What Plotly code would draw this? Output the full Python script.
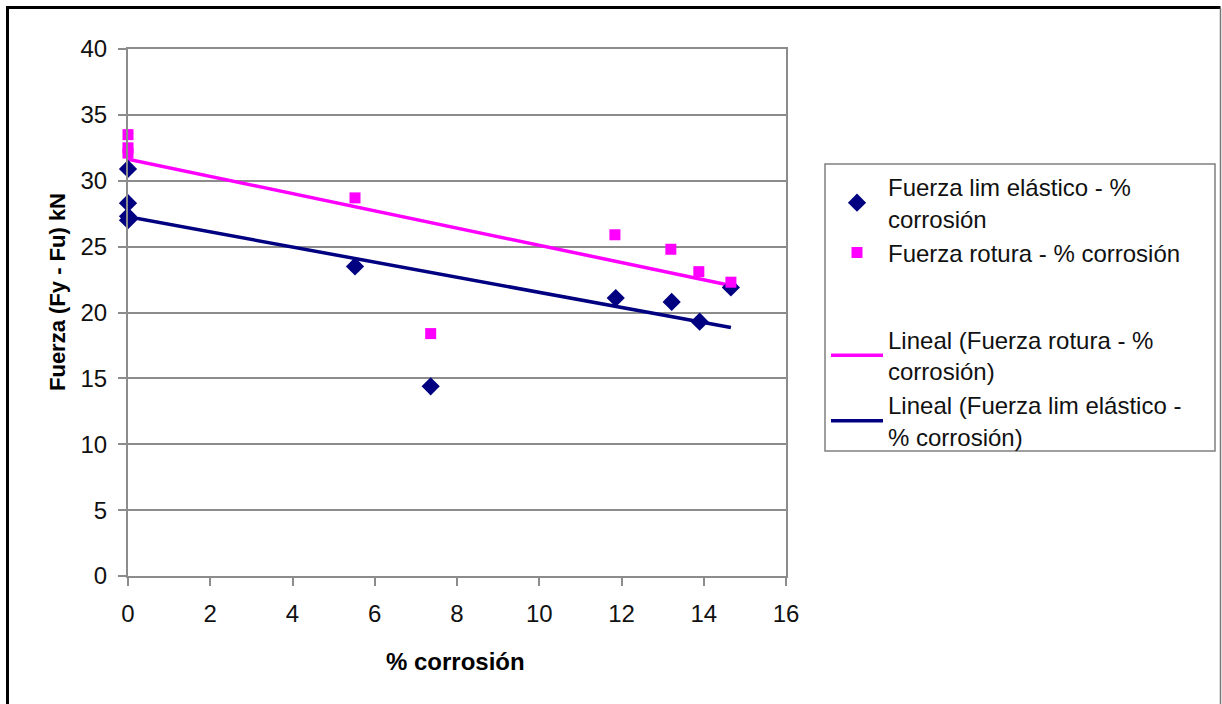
import numpy as np
import plotly.graph_objects as go

# Fuerza en el límite elástico (kN) frente al % de corrosión
corr_fy = [0, 0, 0, 0, 5.52, 7.36, 11.86, 13.22, 13.90, 14.66]
fy = [30.9, 28.3, 27.3, 27.0, 23.5, 14.4, 21.1, 20.8, 19.3, 21.9]

# Fuerza de rotura (kN) frente al % de corrosión
corr_fu = [0, 0, 0, 5.52, 7.36, 11.84, 13.20, 13.88, 14.66]
fu = [33.5, 32.5, 32.1, 28.7, 18.4, 25.9, 24.8, 23.1, 22.3]

x_ticks = [0, 2, 4, 6, 8, 10, 12, 14, 16]
y_ticks = [0, 5, 10, 15, 20, 25, 30, 35, 40]

BLUE = "#000080"
PINK = "#FF00FF"
GRID = "#8c8c8c"
FONT = "Liberation Sans, Arial, sans-serif"

W, H = 1222, 704
ML, MR, MT, MB = 128, 436, 49, 128
PW, PH = W - ML - MR, H - MT - MB


def px(x):
    return (x - ML) / PW


def py(y):
    return (H - MB - y) / PH


# Rectas de regresión lineal
def linear_fit(xs, ys):
    m, b = np.polyfit(xs, ys, 1)
    xf = np.array([0.0, max(xs)])
    return xf, m * xf + b


xf_fu, yf_fu = linear_fit(corr_fu, fu)
xf_fy, yf_fy = linear_fit(corr_fy, fy)

fig = go.Figure()
fig.add_trace(go.Scatter(
    x=xf_fu, y=yf_fu, mode="lines", line=dict(color=PINK, width=3.5), cliponaxis=False,
    name="Lineal (Fuerza rotura - %<br>corrosión)", legendgroup="fit", legendrank=3))
fig.add_trace(go.Scatter(
    x=xf_fy, y=yf_fy, mode="lines", line=dict(color=BLUE, width=3.5), cliponaxis=False,
    name="Lineal (Fuerza lim elástico -<br>% corrosión)", legendgroup="fit", legendrank=4))
fig.add_trace(go.Scatter(
    x=corr_fy, y=fy, mode="markers", cliponaxis=False,
    marker=dict(symbol="diamond", size=14, color=BLUE),
    name="Fuerza lim elástico - %<br>corrosión", legendgroup="pts", legendrank=1))
fig.add_trace(go.Scatter(
    x=corr_fu, y=fu, mode="markers", cliponaxis=False,
    marker=dict(symbol="square", size=11, color=PINK),
    name="Fuerza rotura - % corrosión", legendgroup="pts", legendrank=2))

axis_common = dict(
    showgrid=False, zeroline=False, showline=True, linecolor=GRID, linewidth=2,
    mirror=True, ticks="outside", ticklen=8, tickcolor=GRID, tickwidth=1.5,
    tickfont=dict(family=FONT, size=24, color="#111111"),
)
fig.update_xaxes(range=[0, 16], tickvals=x_ticks, ticklabelstandoff=7, **axis_common)
fig.update_yaxes(range=[0, 40], tickvals=y_ticks, ticklabelstandoff=6, **axis_common)
fig.update_yaxes(showgrid=True, gridcolor=GRID, gridwidth=1.5)

shapes = [
    # marco exterior
    dict(type="path", xref="paper", yref="paper",
         path=f"M {px(7.5)},{py(720)} L {px(7.5)},{py(7.5)} L {px(1220.5)},{py(7.5)}",
         line=dict(color="black", width=3)),
    dict(type="line", xref="paper", yref="paper",
         x0=px(1220.5), x1=px(1220.5), y0=py(7.5), y1=py(720),
         line=dict(color="#777777", width=1.5)),
    # recuadro de la leyenda
    dict(type="rect", xref="paper", yref="paper",
         x0=px(825), x1=px(1215), y0=py(164), y1=py(451),
         line=dict(color="#808080", width=1.5)),
]

annotations = [
    dict(text="<b>% corrosión</b>", xref="paper", yref="paper",
         x=px(455), y=py(661), xanchor="center", yanchor="middle", showarrow=False,
         font=dict(family=FONT, size=24, color="black")),
    dict(text="<b>Fuerza (Fy - Fu) kN</b>", xref="paper", yref="paper",
         x=px(57), y=py(292), xanchor="center", yanchor="middle", showarrow=False,
         textangle=-90, font=dict(family=FONT, size=22, color="black")),
]

fig.update_layout(
    width=W, height=H,
    margin=dict(l=ML, r=MR, t=MT, b=MB, autoexpand=False),
    paper_bgcolor="white", plot_bgcolor="white",
    shapes=shapes, annotations=annotations,
    showlegend=True,
    legend=dict(
        x=px(826), y=py(165), xanchor="left", yanchor="top",
        bgcolor="rgba(0,0,0,0)", borderwidth=0,
        font=dict(family=FONT, size=24, color="#111111"),
        traceorder="grouped", tracegroupgap=53, itemwidth=52,
    ),
)

fig.write_html("out.html")
